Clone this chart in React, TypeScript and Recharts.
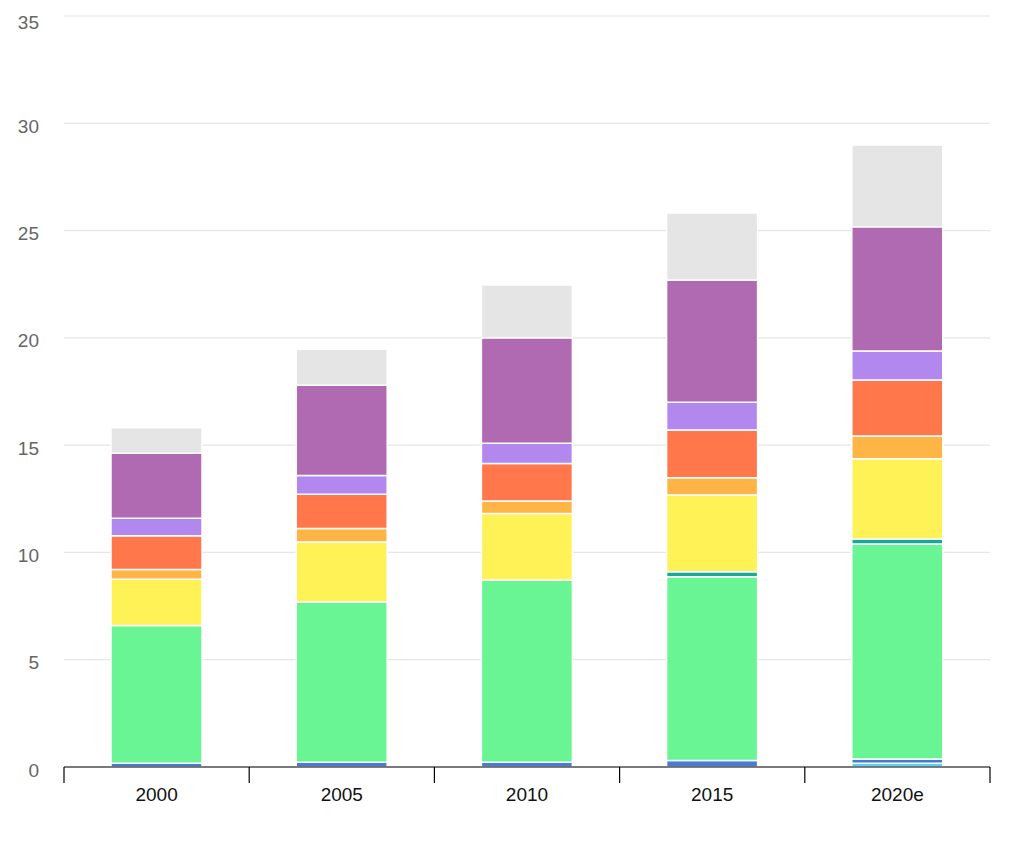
import { BarChart, Bar, XAxis, YAxis, CartesianGrid } from "recharts";

const years = ["2000", "2005", "2010", "2015", "2020e"];

// stacked bottom -> top
const cyan     = [0, 0, 0, 0, 0.17];
const blue     = [0.17, 0.22, 0.22, 0.3, 0.2];
const green    = [6.42, 7.47, 8.5, 8.57, 10.02];
const teal     = [0, 0, 0, 0.23, 0.24];
const yellow   = [2.16, 2.8, 3.1, 3.58, 3.74];
const amber    = [0.46, 0.62, 0.58, 0.8, 1.06];
const orange   = [1.57, 1.6, 1.74, 2.23, 2.61];
const lavender = [0.81, 0.87, 0.95, 1.29, 1.35];
const purple   = [3.03, 4.21, 4.92, 5.7, 5.79];
const grey     = [1.19, 1.68, 2.45, 3.12, 3.81];

const yTicks = [0, 5, 10, 15, 20, 25, 30, 35];

const series = [
  { key: "cyan",     values: cyan,     color: "#56d3f5" },
  { key: "blue",     values: blue,     color: "#4a7bd4" },
  { key: "green",    values: green,    color: "#69f594" },
  { key: "teal",     values: teal,     color: "#16a99b" },
  { key: "yellow",   values: yellow,   color: "#fff257" },
  { key: "amber",    values: amber,    color: "#ffb545" },
  { key: "orange",   values: orange,   color: "#ff774b" },
  { key: "lavender", values: lavender, color: "#b388ee" },
  { key: "purple",   values: purple,   color: "#af6ab1" },
  { key: "grey",     values: grey,     color: "#e5e5e5" },
];

const data = years.map((year, i) => {
  const row: Record<string, string | number> = { year };
  series.forEach(s => { row[s.key] = s.values[i]; });
  return row;
});

const W = 1008;
const H = 837;
const margin = { top: 8, right: 26, bottom: 28, left: 0 };
const Y_W = 56;
const BAND = (W - margin.left - margin.right - Y_W) / years.length;

const XTick = (props: any) => {
  const { x, y, payload, index } = props;
  const last = index === years.length - 1;
  return (
    <g>
      <line x1={x - BAND / 2} y1={y} x2={x - BAND / 2} y2={y + 16} stroke="#000" strokeWidth={1.2} />
      {last && <line x1={x + BAND / 2} y1={y} x2={x + BAND / 2} y2={y + 16} stroke="#000" strokeWidth={1.2} />}
      <text x={x} y={y + 27} textAnchor="middle" dominantBaseline="central" fontSize={19} fill="#111">
        {payload.value}
      </text>
    </g>
  );
};

const YTick = (props: any) => {
  const { x, y, payload } = props;
  const dy = payload.value === 35 ? 6 : 3;
  return (
    <text x={x - 25} y={y + dy} textAnchor="end" dominantBaseline="central" fontSize={19} fill="#666">
      {payload.value}
    </text>
  );
};

export default function App() {
  return (
    <div style={{ width: W, height: H, fontFamily: "'Liberation Sans', Arial, sans-serif" }}>
      <BarChart width={W} height={H} data={data} margin={margin}>
        <CartesianGrid vertical={false} stroke="#e6e6e6" strokeWidth={1.2} />
        <XAxis
          dataKey="year"
          height={50}
          tickSize={0}
          tickMargin={0}
          tickLine={false}
          axisLine={{ stroke: "#000", strokeWidth: 1.2 }}
          tick={<XTick />}
          interval={0}
        />
        <YAxis
          width={Y_W}
          domain={[0, 35]}
          ticks={yTicks}
          tickSize={0}
          tickMargin={0}
          axisLine={false}
          tickLine={false}
          tick={<YTick />}
          interval={0}
        />
        {series.map(s => (
          <Bar
            key={s.key}
            dataKey={s.key}
            stackId="a"
            fill={s.color}
            stroke="#fff"
            strokeWidth={1.5}
            barSize={91}
            isAnimationActive={false}
          />
        ))}
      </BarChart>
    </div>
  );
}
